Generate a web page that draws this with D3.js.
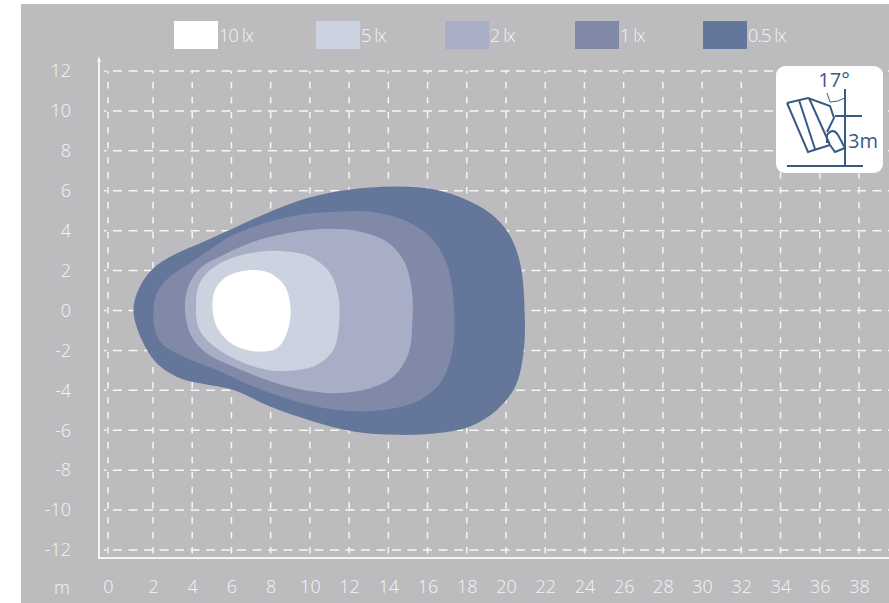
<!DOCTYPE html>
<html><head><meta charset="utf-8">
<script src="https://cdn.jsdelivr.net/npm/d3@7"></script>
<style>html,body{margin:0;padding:0;background:#fff;overflow:hidden}svg{display:block}
text{font-family:"Open Sans",sans-serif}</style></head><body>
<svg id="c" width="889" height="603"></svg>
<script>
const legendLabels=["10 lx","5 lx","2 lx","1 lx","0.5 lx"];
const levelColors=["#ffffff","#cdd2e0","#a8aec6","#8189a9","#64779b"];
const xTicks=[0,2,4,6,8,10,12,14,16,18,20,22,24,26,28,30,32,34,36,38];
const yTicks=[12,10,8,6,4,2,0,-2,-4,-6,-8,-10,-12];
const lx05=[[1.13,.03],[1.42,1.2],[2.02,2.12],[3.04,2.78],[4.4,3.37],[6.1,4.12],[7.97,4.95],[9.84,5.62],[11.88,6.04],[14.43,6.21],[16.47,6.04],[18,5.54],[19.19,4.87],[20.13,3.87],[20.72,2.37],[20.95,.03],[20.89,-2.14],[20.47,-3.81],[19.53,-4.98],[18.17,-5.81],[16.47,-6.15],[14.43,-6.23],[12.22,-6.06],[10.18,-5.56],[7.97,-4.81],[6.1,-3.98],[4.4,-3.64],[3.38,-3.39],[2.19,-2.64],[1.5,-1.47]];
const lx1=[[2.02,-.14],[2.19,.86],[2.87,1.7],[3.89,2.37],[4.9,3.05],[6.1,3.79],[7.97,4.45],[9.67,4.82],[11.37,4.95],[13.07,4.95],[14.77,4.54],[16.13,3.7],[16.97,2.37],[17.36,.03],[17.24,-2.14],[16.64,-3.64],[15.45,-4.56],[13.75,-4.98],[11.37,-4.98],[9.33,-4.56],[7.12,-3.81],[5.25,-2.98],[3.55,-2.31],[2.44,-1.64],[2.1,-.97]];
const lx2=[[3.63,.03],[3.8,1.2],[4.4,2.12],[5.59,2.78],[7.12,3.45],[8.82,3.87],[10.86,4.09],[12.56,3.95],[13.92,3.45],[14.77,2.53],[15.2,1.03],[15.23,-.47],[15.03,-2.14],[14.26,-3.31],[13.07,-3.89],[11.37,-4.14],[9.67,-3.98],[7.8,-3.48],[6.1,-2.81],[4.74,-2.14],[3.97,-1.31]];
const lx5=[[4.19,.03],[4.31,1.2],[4.74,1.87],[5.76,2.53],[7.12,2.9],[8.48,2.98],[10.01,2.7],[11.03,1.87],[11.46,.7],[11.49,-.64],[11.2,-1.97],[10.35,-2.73],[8.82,-3.03],[7.46,-2.89],[5.93,-2.31],[4.74,-1.47],[4.31,-.81]];
const lx10=[[5.04,.03],[5.16,1.03],[5.76,1.7],[6.95,2.03],[7.97,1.87],[8.73,1.2],[9.02,.03],[8.82,-1.14],[8.31,-1.89],[7.29,-2.06],[6.1,-1.72],[5.33,-.97]];
const contours=[lx05,lx1,lx2,lx5,lx10];

const svg=d3.select("#c");
const x=d3.scaleLinear().domain([0,2,38]).range([108,153,859]);
const y=d3.scaleLinear().domain([12,-12]).range([71,550]);
const txt="#f4f4f6", ink="#3a5a86";
svg.append("rect").attr("x",21).attr("y",4).attr("width",868).attr("height",599).attr("fill","#bcbcbe");

// grid
const grid=svg.append("g").attr("stroke","#f6f6f6").attr("stroke-width",1.5).attr("fill","none");
grid.selectAll(".h").data(yTicks).join("line").attr("x1",104).attr("x2",889).attr("y1",d=>y(d)).attr("y2",d=>y(d)).attr("stroke-dasharray","9 6.5").attr("stroke-dashoffset",6.5);
grid.selectAll(".v").data(xTicks).join("line").attr("y1",71).attr("y2",558).attr("x1",d=>x(d)).attr("x2",d=>x(d)).attr("stroke-dasharray","6.5 8.5").attr("stroke-dashoffset",4);

// axis lines
svg.append("path").attr("d","M99,58V558H889").attr("fill","none").attr("stroke","#f4f4f4").attr("stroke-width",2);
svg.append("path").attr("d","M99,56L97,62H101Z").attr("fill","#f4f4f4");

// contours
const line=d3.line().x(d=>x(d[0])).y(d=>y(d[1])).curve(d3.curveCatmullRomClosed.alpha(.5));
svg.selectAll(".c").data(contours.map((c,i)=>({c,col:levelColors[4-i]}))).join("path")
  .attr("d",d=>line(d.c)).attr("fill",d=>d.col);

// axes
const ax=svg.append("g").attr("transform","translate(0,587)").call(d3.axisBottom(x).tickValues(xTicks).tickFormat(d=>d).tickSize(0).tickPadding(-7));
const ay=svg.append("g").attr("transform","translate(71,0)").call(d3.axisLeft(y).tickValues(yTicks).tickFormat(d=>d).tickSize(0).tickPadding(0));
[ax,ay].forEach(a=>{a.select(".domain").remove();a.selectAll("text").attr("fill",txt).attr("font-size",18).attr("font-family",'"Open Sans",sans-serif').attr("font-weight",300);});
svg.append("text").attr("x",70).attr("y",594).attr("text-anchor","end").attr("fill",txt).attr("font-size",18).attr("font-weight",300).text("m");

// legend
const legendX=d3.scaleOrdinal().domain(legendLabels).range([174,316,445,575,703]);
const lg=svg.selectAll(".lg").data(legendLabels).join("g").attr("transform",d=>`translate(${legendX(d)},21)`);
lg.append("rect").attr("width",44).attr("height",28).attr("fill",(d,i)=>levelColors[i]);
lg.append("text").attr("x",45).attr("y",21).attr("fill",txt).attr("font-size",18).attr("font-weight",300).attr("letter-spacing",-.8).text(d=>d);

// inset
const ins=svg.append("g");
ins.append("rect").attr("x",776).attr("y",66).attr("width",107).attr("height",107).attr("rx",9).attr("fill","#fff");
const ic=ins.append("g").attr("fill","none").attr("stroke",ink).attr("stroke-width",2);
["M787,166H863","M845,89V166","M835,116H862",
 "M787,103L808,98L830,106L834,118L827,132","M787,103L808,152L830,145",
 "M799,100L815,149","M809,98L830,145",
 "M827,143L827,135Q833,127 838,135L845,148L835,152L830,145"].forEach(p=>ic.append("path").attr("d",p));
ic.append("path").attr("d","M827,93L830,102Q838,102 845,98").attr("stroke-width",1);
ins.append("text").attr("x",834).attr("y",87).attr("text-anchor","middle").attr("fill",ink).attr("font-size",20).text("17°");
ins.append("text").attr("x",848).attr("y",148).attr("fill",ink).attr("font-size",20).text("3m");
</script></body></html>
